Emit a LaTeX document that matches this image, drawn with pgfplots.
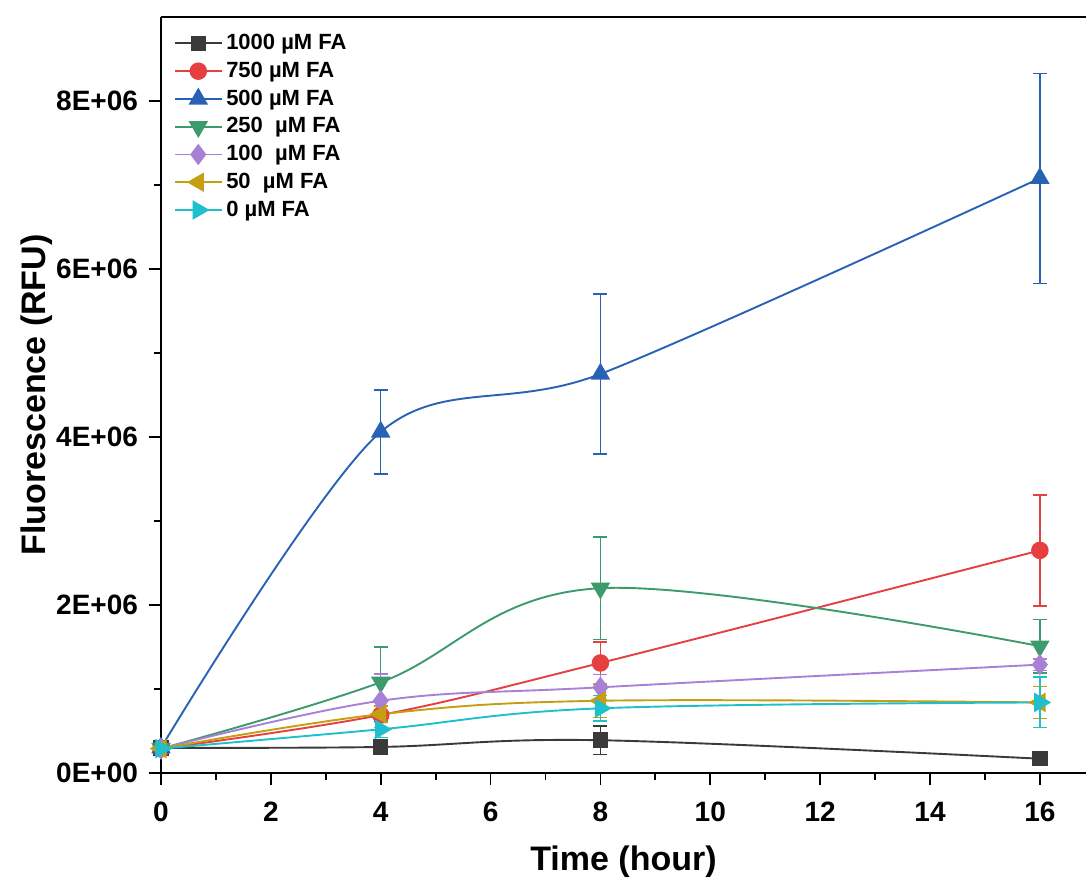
\documentclass[border=0pt]{standalone}
\usepackage{fontspec}
\setmainfont{Liberation Sans}
\usepackage{pgfplots}
\pgfplotsset{compat=1.18}
\usetikzlibrary{calc}
\definecolor{cblack}{HTML}{3A3A3A}
\definecolor{cred}{HTML}{E5403F}
\definecolor{cblue}{HTML}{2862B4}
\definecolor{cgreen}{HTML}{3C9A6C}
\definecolor{cpurple}{HTML}{A880D6}
\definecolor{cgold}{HTML}{C59E12}
\definecolor{ccyan}{HTML}{1FBFCB}

\begin{document}
\begin{tikzpicture}
\begin{axis}[
  scale only axis,
  width=462.5pt,height=378pt,
  xmin=0,xmax=16.84,ymin=0,ymax=9e6,
  axis x line*=box, axis y line*=left,
  xtick pos=bottom, ytick pos=left,
  axis line style={line width=1pt,-},
  tick align=outside,
  major tick length=6pt, minor tick length=3.5pt,
  every tick/.style={black,line width=0.9pt},
  xtick={0,2,...,16}, minor x tick num=1,
  ytick={0,2e6,4e6,6e6,8e6}, minor y tick num=1,
  yticklabels={0E+00,2E+06,4E+06,6E+06,8E+06},
  scaled y ticks=false,
  /pgf/number format/assume math mode=true,
  tick label style={font=\fontsize{14}{16}\selectfont\bfseries},
  xticklabel style={yshift=-5pt},
  yticklabel style={xshift=-2pt},
  xlabel={Time (hour)}, ylabel={Fluorescence (RFU)},
  label style={font=\fontsize{17}{20}\selectfont\bfseries},
  xlabel style={at={(axis description cs:0.5,-0.1177)},anchor=center},
  ylabel style={at={(axis description cs:-0.1341,0.5)},anchor=center},
  legend style={at={(0.014,0.983)},anchor=north west,draw=none,fill=none,
    font=\fontsize{11}{11}\selectfont\bfseries,row sep=0.7pt,
    inner sep=0pt,cells={anchor=west}},
  legend image code/.code={
    \draw[mark repeat=2,mark phase=2] plot coordinates {(0pt,0pt)(11.5pt,0pt)(23pt,0pt)};},
  every axis plot/.append style={line width=0.95pt,smooth,tension=0.6},
  error bars/y dir=both, error bars/y explicit,
  error bars/error bar style={line width=0.75pt},
  error bars/error mark options={rotate=90,mark size=3.5pt,line width=0.75pt},
]
\addplot[cblack,mark=square*,mark size=3.4pt] coordinates {
  (0,0.30e6) +- (0,0.02e6) (4,0.31e6) +- (0,0.04e6) (8,0.39e6) +- (0,0.17e6) (16,0.17e6) +- (0,0.07e6)};
\addlegendentry{1000 µM FA}
\addplot[cred,mark=*,mark size=3.9pt] coordinates {
  (0,0.29e6) +- (0,0.02e6) (4,0.69e6) +- (0,0.05e6) (8,1.31e6) +- (0,0.25e6) (16,2.65e6) +- (0,0.66e6)};
\addlegendentry{750 µM FA}
\addplot[cblue,mark=triangle*,mark size=4.7pt,tension=0.5] coordinates {
  (0,0.30e6) +- (0,0.02e6) (4,4.06e6) +- (0,0.50e6) (8,4.75e6) +- (0,0.95e6) (16,7.08e6) +- (0,1.25e6)};
\addlegendentry{500 µM FA}
\addplot[cgreen,mark=triangle*,mark size=4.7pt,mark options={rotate=180}] coordinates {
  (0,0.29e6) +- (0,0.02e6) (4,1.08e6) +- (0,0.42e6) (8,2.20e6) +- (0,0.61e6) (16,1.51e6) +- (0,0.32e6)};
\addlegendentry{250 \ µM FA}
\addplot[cpurple,mark=diamond*,mark size=4.6pt] coordinates {
  (0,0.29e6) +- (0,0.02e6) (4,0.86e6) +- (0,0.32e6) (8,1.02e6) +- (0,0.15e6) (16,1.29e6) +- (0,0.07e6)};
\addlegendentry{100 \ µM FA}
\addplot[cgold,mark=triangle*,mark size=4.7pt,mark options={rotate=90}] coordinates {
  (0,0.29e6) +- (0,0.02e6) (4,0.70e6) +- (0,0.10e6) (8,0.86e6) +- (0,0.20e6) (16,0.84e6) +- (0,0.19e6)};
\addlegendentry{50 \ µM FA}
\addplot[ccyan,mark=triangle*,mark size=4.7pt,mark options={rotate=-90}] coordinates {
  (0,0.29e6) +- (0,0.02e6) (4,0.52e6) +- (0,0.10e6) (8,0.77e6) +- (0,0.15e6) (16,0.84e6) +- (0,0.30e6)};
\addlegendentry{0 µM FA}
\end{axis}
\pgfresetboundingbox
\path[use as bounding box] (current axis.south west) ++(-80.5pt,-56.5pt) rectangle ($(current axis.north east)+(0pt,8.5pt)$);
\end{tikzpicture}
\end{document}
